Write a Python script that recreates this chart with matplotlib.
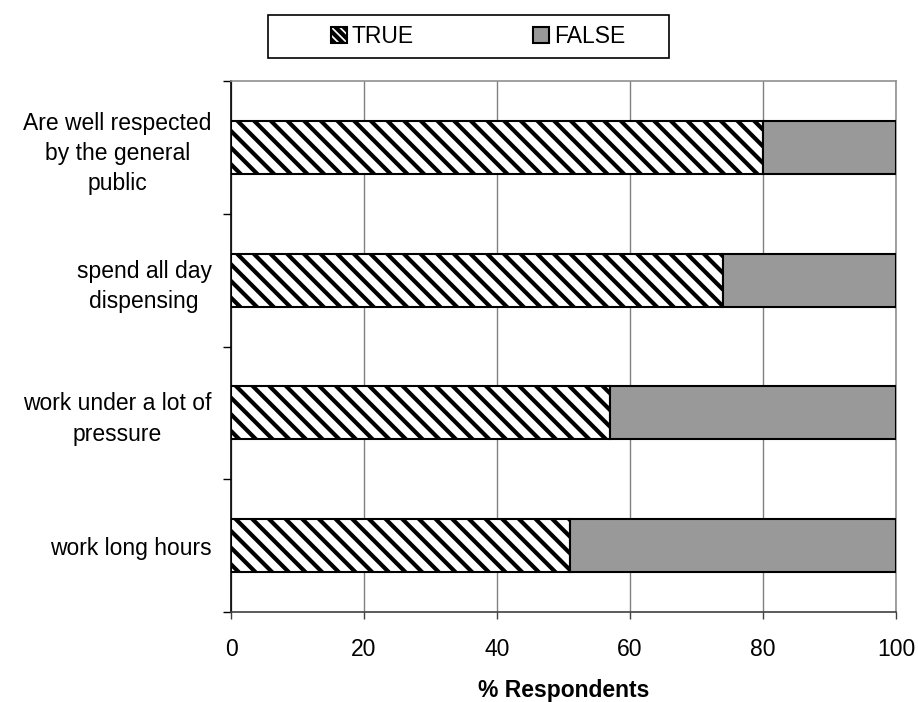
import matplotlib.pyplot as plt
from matplotlib.patches import Rectangle, Patch

plt.rcParams["font.family"] = ["Liberation Sans", "DejaVu Sans"]
plt.rcParams["hatch.linewidth"] = 3.0

categories = [
    "work long hours",
    "work under a lot of\npressure",
    "spend all day\ndispensing",
    "Are well respected\nby the general\npublic",
]
true_pct = [51, 57, 74, 80]
false_pct = [49, 43, 26, 20]
xticks = [0, 20, 40, 60, 80, 100]

FS = 16.5

fig = plt.figure(figsize=(9.18, 7.02), dpi=100)
ax = fig.add_axes([231 / 918, 1 - 612 / 702, (896 - 231) / 918, (612 - 81) / 702])

pos = range(len(categories))
ax.barh(pos, true_pct, height=0.4, color="white", edgecolor="black",
        hatch="\\\\", linewidth=1.5, zorder=3)
ax.barh(pos, false_pct, left=true_pct, height=0.4, color="#999999",
        edgecolor="black", linewidth=1.5, zorder=3)

ax.set_xlim(0, 100)
ax.set_ylim(-0.5, len(categories) - 0.5)
ax.set_xticks(xticks)
ax.tick_params(axis="x", labelsize=FS, length=5, width=1, color="#404040", pad=14)
ax.grid(axis="x", color="#808080", linewidth=1, zorder=0)

# category boundaries carry ticks, labels sit between them
ax.set_yticks([i - 0.5 for i in range(len(categories) + 1)])
ax.set_yticklabels([])
ax.tick_params(axis="y", which="major", length=6, width=1, color="black")
ax.set_yticks(list(pos), minor=True)
ax.set_yticklabels(categories, minor=True, fontsize=FS, ha="right",
                   multialignment="center", linespacing=1.4)
ax.tick_params(axis="y", which="minor", length=0, pad=14)

ax.spines["left"].set_color("black")
ax.spines["bottom"].set_color("#404040")
ax.spines["top"].set_color("#909090")
ax.spines["right"].set_color("#909090")
for s in ax.spines.values():
    s.set_linewidth(1.2)

ax.set_xlabel("% Respondents", fontsize=FS, fontweight="bold", labelpad=13)

# legend box
fig.patches.append(Rectangle((268 / 918, 1 - 58 / 702), 401 / 918, 43 / 702,
                             transform=fig.transFigure, facecolor="white",
                             edgecolor="black", linewidth=1.2))
handles = [Patch(facecolor="white", edgecolor="black", hatch="\\\\\\\\", linewidth=1.5),
           Patch(facecolor="#999999", edgecolor="black", linewidth=1.5)]
fig.legend(handles, ["TRUE", "FALSE"], loc="center",
           bbox_to_anchor=(478 / 918, 1 - 36.5 / 702), ncol=2, frameon=False,
           fontsize=FS, handlelength=0.7, handleheight=0.7,
           handletextpad=0.2, columnspacing=5.2)

fig.savefig("out.png", dpi=100)
